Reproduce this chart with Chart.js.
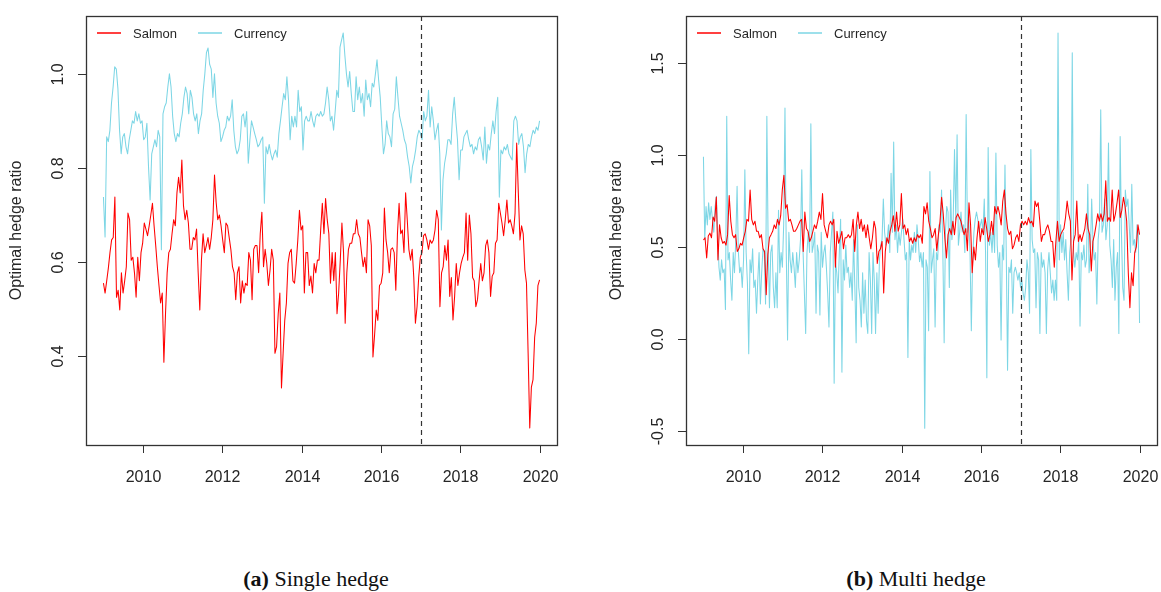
<!DOCTYPE html>
<html>
<head>
<meta charset="utf-8">
<script src="https://cdn.jsdelivr.net/npm/chart.js@4.4.0/dist/chart.umd.min.js"></script>
<style>
  body { margin: 0; background: #fff; width: 1161px; height: 592px; position: relative; overflow: hidden; }
  canvas { position: absolute; top: 0; }
  #single { left: 0; }
  #multi { left: 600px; }
  .caption { position: absolute; top: 568px; width: 240px; text-align: center;
    font-family: "Liberation Serif", "Times New Roman", serif; font-size: 22px; line-height: 22px; color: #111; }
</style>
</head>
<body>
<canvas id="single" width="580" height="500"></canvas>
<canvas id="multi" width="561" height="500"></canvas>
<div class="caption" style="left:196px"><b>(a)</b> Single hedge</div>
<div class="caption" style="left:796px"><b>(b)</b> Multi hedge</div>
<script>
const yearTicks = [2010, 2012, 2014, 2016, 2018, 2020];
const breakYear = 2017;
const singleTicks = [0.4, 0.6, 0.8, 1.0];
const multiTicks = [-0.5, 0.0, 0.5, 1.0, 1.5];
const seriesNames = ['Salmon', 'Currency'];

// weekly hedge ratios, 2009 - 2019
const singleSalmon = [
  0.555, 0.534, 0.56, 0.587, 0.62, 0.647, 0.652, 0.738, 0.525, 0.54,
  0.498, 0.577, 0.534, 0.56, 0.59, 0.704, 0.69, 0.604, 0.61, 0.577,
  0.525, 0.61, 0.56, 0.62, 0.64, 0.683, 0.67, 0.656, 0.677, 0.70,
  0.725, 0.677, 0.635, 0.59, 0.55, 0.513, 0.534, 0.387, 0.49, 0.577,
  0.62, 0.627, 0.66, 0.69, 0.677, 0.747, 0.78, 0.747, 0.817, 0.72,
  0.69, 0.71, 0.683, 0.627, 0.627, 0.652, 0.647, 0.67, 0.577, 0.498,
  0.604, 0.66, 0.62, 0.635, 0.652, 0.627, 0.652, 0.69, 0.785, 0.727,
  0.69, 0.70, 0.677, 0.647, 0.62, 0.683, 0.677, 0.652, 0.627, 0.59,
  0.577, 0.52, 0.577, 0.59, 0.513, 0.56,
  0.534, 0.555, 0.55, 0.62, 0.604, 0.52, 0.627, 0.635, 0.635, 0.577,
  0.66, 0.706, 0.59, 0.627, 0.597, 0.55, 0.583, 0.627, 0.604, 0.406,
  0.42, 0.49, 0.534, 0.332, 0.406, 0.476, 0.513, 0.597, 0.62, 0.627,
  0.56, 0.555, 0.597, 0.647, 0.71, 0.668, 0.677, 0.534, 0.62, 0.62,
  0.55, 0.57, 0.534, 0.597, 0.577, 0.604, 0.604, 0.668, 0.725, 0.66,
  0.735, 0.69, 0.66, 0.555, 0.62, 0.56, 0.62, 0.49, 0.534, 0.604,
  0.683, 0.62, 0.47, 0.577, 0.627, 0.64, 0.64, 0.66, 0.66, 0.69,
  0.66, 0.652, 0.62, 0.59, 0.61, 0.577, 0.69, 0.677, 0.635, 0.398,
  0.445, 0.498, 0.476, 0.55, 0.555, 0.577, 0.715, 0.647, 0.62, 0.577,
  0.627, 0.63, 0.62, 0.54, 0.66, 0.725, 0.66, 0.668, 0.62, 0.747,
  0.69, 0.627, 0.604, 0.627, 0.567, 0.47, 0.505, 0.567, 0.61, 0.62,
  0.656, 0.66, 0.647, 0.627, 0.647, 0.64, 0.647, 0.668, 0.71, 0.69,
  0.505, 0.577, 0.59, 0.635, 0.604, 0.647, 0.527, 0.567, 0.477, 0.527,
  0.597, 0.55, 0.577, 0.597, 0.61, 0.62, 0.704, 0.604, 0.70, 0.66,
  0.567, 0.56, 0.505, 0.52, 0.56, 0.597, 0.56, 0.577, 0.635, 0.647,
  0.62, 0.527, 0.57, 0.577, 0.64, 0.647, 0.725, 0.704, 0.683, 0.656,
  0.69, 0.732, 0.683, 0.69, 0.677, 0.66, 0.704, 0.853, 0.747, 0.647,
  0.677, 0.66, 0.583, 0.555, 0.406, 0.247, 0.334, 0.35, 0.44, 0.47,
  0.55, 0.562
];

const singleCurrency = [
  0.738, 0.653, 0.866, 0.856, 0.88, 0.938, 0.972, 1.015, 1.01, 0.968,
  0.88, 0.83, 0.866, 0.873, 0.845, 0.83, 0.86, 0.88, 0.90, 0.895,
  0.92, 0.90, 0.915, 0.895, 0.90, 0.86, 0.866, 0.895, 0.803, 0.732,
  0.83, 0.845, 0.86, 0.845, 0.88, 0.866, 0.626, 0.915, 0.93, 0.938,
  0.972, 1.0, 0.972, 0.91, 0.873, 0.856, 0.873, 0.866, 0.895, 0.915,
  0.95, 0.972, 0.958, 0.915, 0.965, 0.95, 0.915, 0.90, 0.915, 0.873,
  0.90, 0.915, 0.965, 1.0, 1.045, 1.055, 1.02, 1.01, 0.95,
  1.0, 0.938, 0.91, 0.895, 0.856, 0.866, 0.88, 0.887, 0.91, 0.90,
  0.91, 0.945, 0.88, 0.845, 0.83, 0.838, 0.86, 0.91, 0.915,
  0.887,
  0.92, 0.81, 0.86, 0.90, 0.887, 0.873, 0.86, 0.845, 0.85, 0.86,
  0.866, 0.725, 0.845, 0.83, 0.85, 0.83, 0.817, 0.83, 0.838, 0.823,
  0.873, 0.90, 0.93, 0.958, 0.945, 0.994, 0.945, 0.86, 0.91, 0.887,
  0.91, 0.887, 0.965, 0.92, 0.93, 0.838, 0.90, 0.91, 0.90, 0.90,
  0.92, 0.90, 0.887, 0.91, 0.915, 0.91, 0.92, 0.91, 0.915, 0.938,
  0.972, 0.945, 0.90, 0.91, 0.88, 0.92, 0.965, 0.95, 1.057, 1.072,
  1.087, 1.04, 1.0, 0.972, 1.005, 0.958, 0.92, 0.92, 0.994, 0.945,
  0.972, 0.938, 0.958, 0.91, 0.987, 0.945, 0.958, 0.93, 0.98, 0.972,
  1.0, 1.03, 0.987, 0.95, 0.887, 0.83, 0.85, 0.90,
  0.873, 0.866, 0.845, 0.915, 0.925, 0.994, 0.95, 0.91, 0.895, 0.88,
  0.86, 0.85, 0.823, 0.803, 0.768, 0.803, 0.817, 0.838, 0.866,
  0.88, 0.873, 0.86, 0.92, 0.90, 0.91, 0.965, 0.887, 0.93,
  0.90, 0.86, 0.88, 0.895, 0.83, 0.668, 0.775, 0.81, 0.83, 0.86,
  0.86, 0.85, 0.915, 0.95, 0.90, 0.86, 0.775, 0.838, 0.838, 0.866,
  0.873, 0.88, 0.86, 0.845, 0.85, 0.83, 0.845, 0.838, 0.86, 0.866,
  0.845, 0.817, 0.887, 0.81, 0.85, 0.838, 0.873, 0.90, 0.873, 0.92,
  0.95, 0.738, 0.838, 0.83, 0.845, 0.838, 0.85, 0.83, 0.823, 0.817,
  0.90, 0.91, 0.90, 0.85, 0.866, 0.873, 0.845, 0.79, 0.83, 0.85,
  0.845, 0.866, 0.88, 0.873, 0.887, 0.88, 0.90
];

const multiSalmon = [
  0.538, 0.55, 0.44, 0.56, 0.575, 0.55, 0.663, 0.64, 0.772, 0.43,
  0.62, 0.55, 0.52, 0.53, 0.51, 0.567, 0.78, 0.64, 0.567, 0.55,
  0.567, 0.475, 0.49, 0.52, 0.51, 0.55, 0.585, 0.65, 0.64, 0.81,
  0.65, 0.62, 0.64, 0.585, 0.585, 0.55, 0.567, 0.49, 0.475, 0.24,
  0.46, 0.55, 0.567, 0.585, 0.62, 0.60, 0.65, 0.62, 0.67, 0.81,
  0.89, 0.71, 0.73, 0.64, 0.65, 0.62, 0.585, 0.585, 0.60, 0.62,
  0.64, 0.65, 0.475, 0.69, 0.60, 0.585, 0.53, 0.55,
  0.585, 0.62, 0.60, 0.64, 0.69, 0.65, 0.79, 0.62, 0.585, 0.55,
  0.62, 0.64, 0.62, 0.65, 0.39, 0.585, 0.52, 0.55, 0.585, 0.49,
  0.55, 0.55, 0.567, 0.55, 0.567, 0.65, 0.475, 0.62, 0.69, 0.60,
  0.65, 0.585, 0.62, 0.55, 0.62, 0.55, 0.49, 0.55, 0.64, 0.60,
  0.41, 0.475, 0.49, 0.53, 0.25, 0.475, 0.55, 0.52, 0.585, 0.62,
  0.67, 0.585, 0.69, 0.585, 0.62, 0.79, 0.60, 0.62, 0.567, 0.60,
  0.53, 0.55, 0.52, 0.55, 0.53, 0.567, 0.55,
  0.567, 0.52, 0.72, 0.68, 0.74, 0.64, 0.60, 0.55, 0.567, 0.60,
  0.48, 0.567, 0.64, 0.77, 0.68, 0.55, 0.44, 0.567, 0.60, 0.567,
  0.64, 0.567, 0.66, 0.68, 0.66, 0.64, 0.60, 0.567, 0.60, 0.48,
  0.74, 0.62, 0.36, 0.50, 0.43, 0.55, 0.64, 0.53, 0.60, 0.567,
  0.66, 0.60, 0.53, 0.567, 0.64, 0.567, 0.72, 0.68, 0.72, 0.68,
  0.62, 0.75, 0.81, 0.68, 0.60, 0.567, 0.585, 0.49, 0.51, 0.55,
  0.567, 0.53, 0.62, 0.64, 0.62, 0.64, 0.62, 0.66,
  0.63, 0.64, 0.61, 0.75, 0.72, 0.74, 0.64, 0.53, 0.567, 0.567,
  0.60, 0.62, 0.585, 0.53, 0.53, 0.39, 0.53, 0.64, 0.53, 0.567,
  0.585, 0.60, 0.66, 0.75, 0.68, 0.64, 0.32, 0.53, 0.567, 0.75,
  0.53, 0.567, 0.53, 0.567, 0.60, 0.68, 0.60, 0.567, 0.37, 0.53,
  0.567, 0.62, 0.68, 0.64, 0.68, 0.64, 0.68, 0.86, 0.64, 0.66,
  0.64, 0.81, 0.64, 0.68, 0.74, 0.81, 0.66, 0.70, 0.77, 0.72,
  0.64, 0.36, 0.17, 0.36, 0.29, 0.47, 0.50, 0.62, 0.567
];

const multiCurrency = [
  0.99, 0.54, 0.72, 0.62, 0.74, 0.65, 0.72, 0.65, 0.58, 0.72,
  0.775, 0.58, 0.39, 0.32, 0.43, 0.36, 0.38, 0.16, 1.21, 0.43,
  0.47, 0.32, 0.21, 0.47, 0.36, 0.54, 0.83, 0.47, 0.36, 0.39,
  0.28, 0.43, 0.92, 0.47, 0.30, -0.08, 0.43, 0.36, 0.49, 0.28,
  0.32, 0.14, 0.32, 0.47, 0.19, 0.36, 0.49, 0.47, 0.19, 1.21,
  0.51, 0.17, 0.47, 0.51, 0.28, 0.17, 0.36, 0.17, 0.70, 0.36,
  0.47, 0.39, 0.62, 1.255, 0.47, -0.005, 0.58, 0.43, 0.36, 0.47,
  0.39, 0.28, 0.47, 0.36, 0.43, 0.54, 0.92, 0.47, 0.25, 0.03,
  0.47, 0.58, 0.47, 1.17,
  0.47, 0.51, 0.58, 0.14, 0.51, 0.47, 0.13, 0.58, 0.39, 0.47,
  0.51, 0.39, 0.25, 0.065, 0.47, 0.58, 0.69, -0.24, 0.43, 0.36,
  0.25, 0.47, 0.65, -0.18, 0.43, 0.32, 0.51, 0.36, 0.39, 0.28,
  0.36, 0.21, 0.54, 0.28, -0.02, 0.62, 0.28, 0.21, 0.065, 0.36,
  0.14, 0.32, 0.10, 0.03, 0.47, 0.32, 0.03, 0.47, 0.32, 0.03,
  0.36, 0.14, 0.43, 0.51, 0.54, 0.76, 0.58, 0.51, 0.54, 0.62,
  0.47, 0.90, 0.58, 1.07, 0.54, 0.62, 0.47, 0.58, 0.51, 0.58,
  0.65, 0.54, 0.43, 0.47, -0.10, 0.54, 0.43, 0.51, 0.47, 0.58,
  0.47, 0.62, 0.54, 0.42,
  0.47, 0.39, 0.47, -0.485, 0.43, 0.39, 0.045, 0.91, 0.36, 0.43,
  0.49, 0.065, 0.47, 0.43, 0.62, 0.58, 0.81, 0.47, -0.02, 0.58,
  0.72, 0.69, 0.28, 0.81, 0.54, 0.65, 1.03, 0.65, 1.11, 0.51,
  0.58, 0.69, 0.58, 0.62, 0.47, 1.22, 0.58, 0.65, 0.47, 0.045,
  0.43, 0.58, 0.65, 0.69, 0.65, 0.58, 0.62, 0.65, 0.58, 0.76,
  0.47, -0.21, 1.04, 0.51, 0.58, 0.47, 0.62, 0.47, 1.01, 0.51,
  0.39, 0.47, -0.005, 0.51, 0.43, 0.945, 0.47, -0.17, 0.39, 0.36,
  0.43, 0.14, 0.36, 0.39, 0.36, 0.32, 0.36, 0.28, 0.32, 0.25,
  0.21, 0.28, 0.43, 0.36, 0.14, 1.03,
  0.54, 0.47, 0.49, 0.17, 0.47, 0.43, 0.03, 0.47, 0.39, 0.43,
  0.36, 0.03, 0.38, 0.47, 0.36, 0.25, 0.32, 0.21, 0.32, 0.21,
  1.663, 0.43, 0.62, 0.47, 0.58, 0.43, 0.54, 0.36, 0.21, 0.47,
  0.54, 1.555, 0.47, 0.39, 0.47, 0.43, 0.54, 0.07, 0.47, 0.43,
  0.51, 0.39, 0.43, 0.84, 0.36, 0.47, 0.76, 0.54, 0.43, 0.47,
  0.19, 0.54, 0.62, 1.245, 0.58, 0.62, 0.76, 0.54, 0.62, 1.065,
  0.51, 0.43, 0.28, 0.54, 0.21, 0.39, 0.47, 0.03, 1.10, 0.58,
  0.28, 0.21, 0.81, 0.72, 0.76, 0.62, 0.47, 0.84, 0.51, 0.54,
  0.47, 0.62, 0.58, 0.087
];

const salmonColor = '#ff0000';
const currencyColor = '#7dd6e5';
const inkColor = '#262626';
const sansFont = '"Liberation Sans", Arial, sans-serif';

// spread the weekly observations evenly from start of 2009 to start of 2020
const toPoints = values => values.map((v, i) => ({ x: 2009 + 11 * i / (values.length - 1), y: v }));

// R base-graphics look: boxed plot, outward ticks, rotated y labels, plain legend
const baseAxes = {
  id: 'baseAxes',
  afterDatasetsDraw(chart, args, opts) {
    const { ctx, chartArea: a, scales: { x, y } } = chart;
    ctx.save();
    ctx.strokeStyle = '#333';

    // break between estimation and test sample
    const bx = Math.round(x.getPixelForValue(breakYear)) + 0.5;
    ctx.lineWidth = 1.2;
    ctx.setLineDash([5, 4]);
    ctx.beginPath();
    ctx.moveTo(bx, a.top);
    ctx.lineTo(bx, a.bottom);
    ctx.stroke();
    ctx.setLineDash([]);

    ctx.lineWidth = 1.3;
    ctx.strokeRect(a.left + 0.5, a.top + 0.5, a.right - a.left, a.bottom - a.top);

    ctx.lineWidth = 1;
    ctx.fillStyle = inkColor;
    ctx.font = '16px ' + sansFont;
    ctx.textAlign = 'center';
    ctx.textBaseline = 'alphabetic';

    yearTicks.forEach(yr => {
      const px = Math.round(x.getPixelForValue(yr)) + 0.5;
      ctx.beginPath();
      ctx.moveTo(px, a.bottom);
      ctx.lineTo(px, a.bottom + 8);
      ctx.stroke();
      ctx.fillText(String(yr), px, a.bottom + 37);
    });

    opts.ticks.forEach(v => {
      const py = Math.round(y.getPixelForValue(v)) + 0.5;
      ctx.beginPath();
      ctx.moveTo(a.left, py);
      ctx.lineTo(a.left - 8, py);
      ctx.stroke();
      ctx.save();
      ctx.translate(a.left - 23, py);
      ctx.rotate(-Math.PI / 2);
      ctx.fillText(v.toFixed(1), 0, 0);
      ctx.restore();
    });

    ctx.save();
    ctx.translate(a.left - 65, (a.top + a.bottom) / 2);
    ctx.rotate(-Math.PI / 2);
    ctx.fillText('Optimal hedge ratio', 0, 0);
    ctx.restore();

    // legend, top left inside the box
    ctx.font = '13px ' + sansFont;
    ctx.textAlign = 'left';
    ctx.textBaseline = 'middle';
    const ly = a.top + 17;
    const entries = [[0, salmonColor], [101, currencyColor]];
    entries.forEach(([dx, col], i) => {
      ctx.strokeStyle = col;
      ctx.lineWidth = 1.5;
      ctx.beginPath();
      ctx.moveTo(a.left + 11 + dx, ly);
      ctx.lineTo(a.left + 35 + dx, ly);
      ctx.stroke();
      ctx.fillText(seriesNames[i], a.left + 47 + dx, ly + 1);
    });
    ctx.restore();
  }
};

function makePanel(id, salmon, currency, yMin, yMax, ticks, padRight) {
  return new Chart(document.getElementById(id), {
    type: 'line',
    data: {
      datasets: [
        { label: seriesNames[0], data: toPoints(salmon), borderColor: salmonColor },
        { label: seriesNames[1], data: toPoints(currency), borderColor: currencyColor }
      ]
    },
    options: {
      responsive: false,
      animation: false,
      events: [],
      layout: { padding: { left: 86, top: 16, right: padRight, bottom: 55 } },
      elements: {
        point: { radius: 0 },
        line: { borderWidth: 1.05, tension: 0, borderJoinStyle: 'round', fill: false }
      },
      scales: {
        x: { type: 'linear', display: false, min: 2008.56, max: 2020.44 },
        y: { type: 'linear', display: false, min: yMin, max: yMax }
      },
      plugins: {
        legend: { display: false },
        tooltip: { enabled: false },
        baseAxes: { ticks: ticks }
      }
    },
    plugins: [baseAxes]
  });
}

makePanel('single', singleSalmon, singleCurrency, 0.211, 1.123, singleTicks, 23);
makePanel('multi', multiSalmon, multiCurrency, -0.576, 1.755, multiTicks, 4);
</script>
</body>
</html>
